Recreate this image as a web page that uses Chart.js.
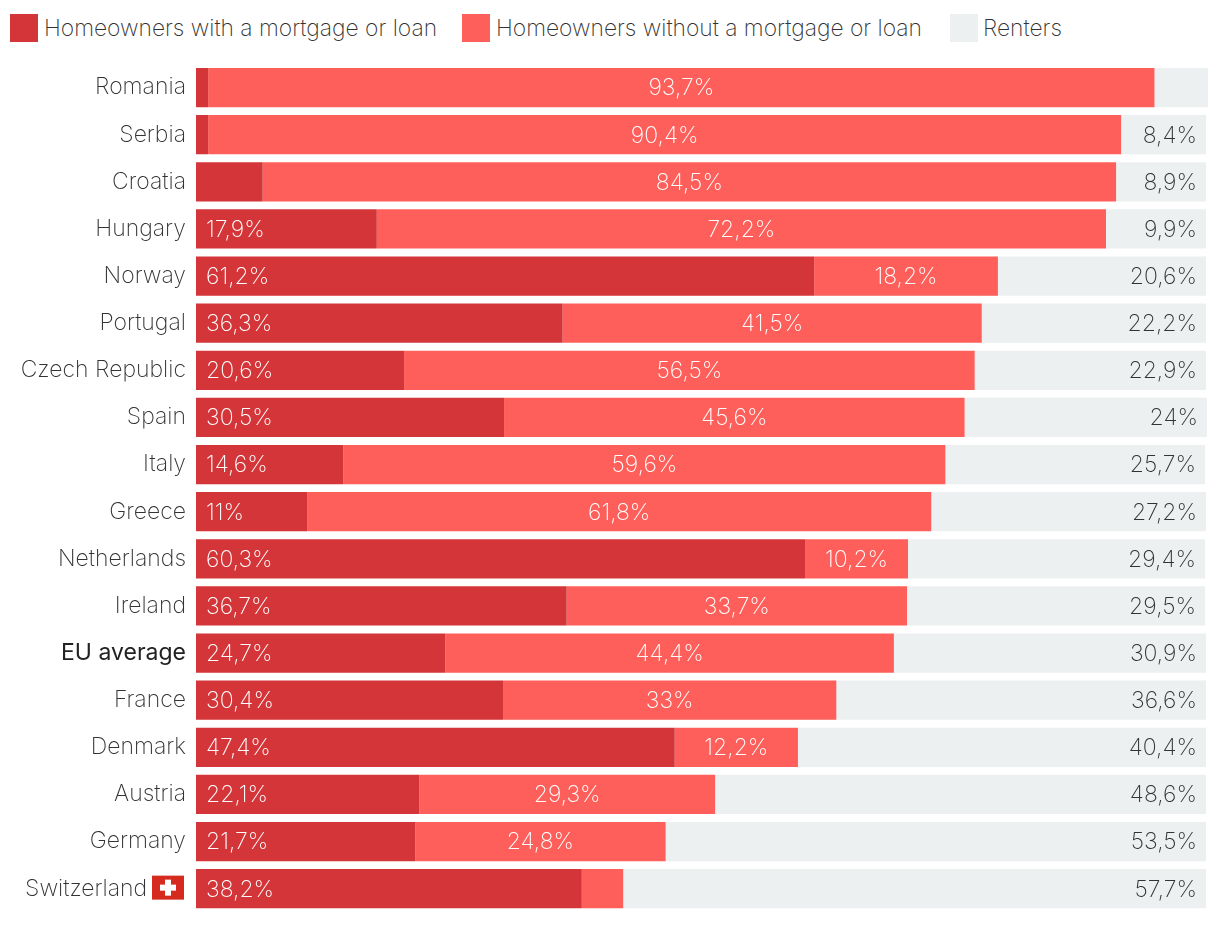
<!DOCTYPE html>
<html>
<head>
<meta charset="utf-8">
<script src="https://cdn.jsdelivr.net/npm/chart.js@4"></script>
<style>
html,body{margin:0;padding:0;background:#fff;}
#wrap{position:relative;width:1220px;height:936px;overflow:hidden;}
#legend{position:absolute;left:0;top:14px;height:28px;width:1220px;font:200 22.8px Inter,sans-serif;color:#333;}
#legend span{position:absolute;top:0;line-height:28px;white-space:nowrap;}
#legend i{position:absolute;top:0;width:28px;height:28px;display:block;}
canvas{position:absolute;left:0;top:0;}
</style>
</head>
<body>
<div id="wrap">
<div id="legend"></div>
<canvas id="c" width="1220" height="936"></canvas>
</div>
<script>
const categories = ["Romania","Serbia","Croatia","Hungary","Norway","Portugal","Czech Republic","Spain","Italy","Greece","Netherlands","Ireland","EU average","France","Denmark","Austria","Germany","Switzerland"];
const withMortgage = [1.2,1.2,6.6,17.9,61.2,36.3,20.6,30.5,14.6,11,60.3,36.7,24.7,30.4,47.4,22.1,21.7,38.2];
const withoutMortgage = [93.7,90.4,84.5,72.2,18.2,41.5,56.5,45.6,59.6,61.8,10.2,33.7,44.4,33,12.2,29.3,24.8,4.1];
const renters = [5.3,8.4,8.9,9.9,20.6,22.2,22.9,24,25.7,27.2,29.4,29.5,30.9,36.6,40.4,48.6,53.5,57.7];
const seriesNames = ["Homeowners with a mortgage or loan","Homeowners without a mortgage or loan","Renters"];
const seriesColors = ["#d43539","#ff5f5a","#edf0f1"];
const legendBoxX = [10,462,950];
const legendTextX = [44,496,983];

const FONT = '200 23px Inter, sans-serif';
const TEXT = '#333333';

const legend = document.getElementById('legend');
seriesNames.forEach((n,i)=>{
  const b=document.createElement('i');b.style.left=legendBoxX[i]+'px';b.style.background=seriesColors[i];legend.appendChild(b);
  const s=document.createElement('span');s.style.left=legendTextX[i]+'px';s.textContent=n;legend.appendChild(s);
});

const fmt = v => String(v).replace('.',',') + '%';

const labelPlugin = {
  id:'barLabels',
  afterDatasetsDraw(chart){
    const ctx=chart.ctx;
    ctx.save();
    ctx.font=FONT;
    ctx.textBaseline='middle';
    chart.data.datasets.forEach((ds,di)=>{
      const meta=chart.getDatasetMeta(di);
      meta.data.forEach((el,i)=>{
        const v=ds.data[i];
        if(v<8) return;
        const y=el.y+1;
        if(di===0){ctx.textAlign='left';ctx.fillStyle='#fff';ctx.fillText(fmt(v),el.base+10,y);}
        else if(di===1){ctx.textAlign='center';ctx.fillStyle='#fff';ctx.fillText(fmt(v),(el.base+el.x)/2,y);}
        else{ctx.textAlign='right';ctx.fillStyle=TEXT;ctx.fillText(fmt(v),el.x-9,y);}
      });
    });
    ctx.restore();
  },
  afterDraw(chart){
    const ctx=chart.ctx, yS=chart.scales.y;
    const cy=yS.getPixelForValue(categories.indexOf('Switzerland'))-1;
    ctx.save();
    ctx.fillStyle='#d52b1e';ctx.fillRect(152,cy-12,32,24);
    ctx.fillStyle='#fff';
    ctx.fillRect(165,cy-8,6,16);
    ctx.fillRect(160,cy-3,16,6);
    ctx.restore();
  }
};

new Chart(document.getElementById('c'),{
  type:'bar',
  data:{
    labels:categories.map(c=>c==='Switzerland'?c+'\u00A0\u00A0\u00A0\u00A0\u00A0\u00A0':c),
    datasets:[
      {label:seriesNames[0],data:withMortgage,backgroundColor:seriesColors[0]},
      {label:seriesNames[1],data:withoutMortgage,backgroundColor:seriesColors[1]},
      {label:seriesNames[2],data:renters,backgroundColor:seriesColors[2]}
    ]
  },
  options:{
    indexAxis:'y',
    responsive:false,
    animation:false,
    layout:{padding:{top:64,bottom:8,left:0,right:12},autoPadding:false},
    plugins:{legend:{display:false},tooltip:{enabled:false}},
    datasets:{bar:{categoryPercentage:1,barPercentage:40/48,borderWidth:0}},
    scales:{
      x:{stacked:true,display:false,min:0,max:100.2},
      y:{stacked:true,
        grid:{display:false,drawTicks:false,tickLength:0},border:{display:false},
        afterFit(s){s.width=196;},
        ticks:{padding:10,autoSkip:false,
          font:c=>({family:'Inter, sans-serif',size:23,weight:categories[c.index]==='EU average'?'400':'200'}),
          color:c=>categories[c.index]==='EU average'?'#222222':TEXT}
      }
    }
  },
  plugins:[labelPlugin]
});
</script>
</body>
</html>
